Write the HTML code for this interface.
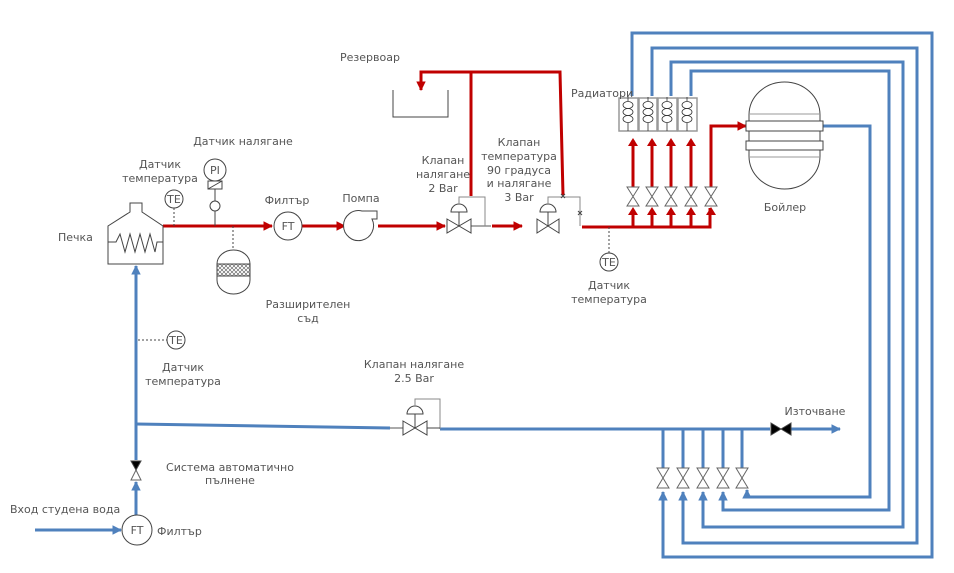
<!DOCTYPE html>
<html><head><meta charset="utf-8"><style>
html,body{margin:0;padding:0;background:#fff}
svg{display:block}
text{font-family:"DejaVu Sans","Liberation Sans",sans-serif;font-size:11px;fill:#555}
</style></head><body>
<svg width="954" height="573" viewBox="0 0 954 573" xmlns="http://www.w3.org/2000/svg">
<defs>
<marker id="ar" viewBox="0 0 10 10" refX="9" refY="5" markerWidth="3.2" markerHeight="3.2" orient="auto"><path d="M0,0L10,5L0,10z" fill="#c00000"/></marker>
<marker id="ab" viewBox="0 0 10 10" refX="9" refY="5" markerWidth="3.2" markerHeight="3.2" orient="auto"><path d="M0,0L10,5L0,10z" fill="#4f81bd"/></marker>
<pattern id="hat" width="4" height="4" patternUnits="userSpaceOnUse"><path d="M0,0L4,4M4,0L0,4" stroke="#555" stroke-width="0.6"/></pattern>
<g id="coil" fill="none" stroke="#333" stroke-width="0.8">
<path d="M0,0V4M0,30V34"/>
<ellipse cx="0" cy="8" rx="5" ry="3.5"/>
<ellipse cx="0" cy="15" rx="5" ry="3.5"/>
<ellipse cx="0" cy="22" rx="5" ry="3.5"/>
<path d="M0,26V30"/>
</g>
</defs>
<g fill="none" stroke-linejoin="miter">
<g stroke="#4f81bd" stroke-width="3">
<path d="M632,96V33H932V557H663V492" marker-end="url(#ab)"/>
<path d="M652,96V48H917V543H683V492" marker-end="url(#ab)"/>
<path d="M671,96V62H903V527H703V492" marker-end="url(#ab)"/>
<path d="M691,96V71H889V510H723V492" marker-end="url(#ab)"/>
<path d="M822,126H870V497H747V490" marker-end="url(#ab)"/>
<path d="M440,429H770"/>
<path d="M136,424L390,428"/>
<path d="M663,429V468M683,429V468M703,429V468M723,429V468M742,429V468"/>
<path d="M791,429H840" marker-end="url(#ab)"/>
<path d="M136,460V266" marker-end="url(#ab)"/>
<path d="M136,515V482" marker-end="url(#ab)"/>
<path d="M35,530H121" marker-end="url(#ab)"/>
</g>
<path d="M390,428H403" stroke="#aaa" stroke-width="2"/>
<g stroke="#c00000" stroke-width="3">
<path d="M163,226H272" marker-end="url(#ar)"/>
<path d="M302,226H345" marker-end="url(#ar)"/>
<path d="M378,226H445" marker-end="url(#ar)"/>
<path d="M492,226H522" marker-end="url(#ar)"/>
<path d="M582,227H710V208" />
<path d="M471,196V72H560L563,195"/>
<path d="M471,72H421V90" marker-end="url(#ar)"/>
<path d="M633,227V210M652,227V210M671,227V210M691,227V210" />
<path d="M633,187V140M652,187V140M671,187V140M691,187V140"/>
<path d="M711,187V126H746" marker-end="url(#ar)"/>
</g>
<g fill="#c00000" stroke="none">
<path d="M628,146L633,138L638,146zM647,146L652,138L657,146zM666,146L671,138L676,146zM686,146L691,138L696,146z"/>
<path d="M628,215L633,207L638,215zM647,215L652,207L657,215zM666,215L671,207L676,215zM686,215L691,207L696,215zM706,215L711,207L716,215z"/>
</g>
<path d="M471,226H491" stroke="#aaa" stroke-width="2"/>
<path d="M130,212V203H142V212L163,226V264H108V226L130,212Z" stroke="#444" stroke-width="1"/>
<path d="M108,242H116L120,234L125,252L130,234L135,252L140,234L145,252L150,234L155,252L157,242H163" stroke="#444" stroke-width="1"/>
<g stroke="#444" stroke-width="1">
<path d="M174,226V208M233,226V250M609,227V255M138,340H167M215,217V226" stroke-dasharray="2,2"/>
<circle cx="174" cy="199" r="9" fill="#fff"/>
<circle cx="176" cy="340" r="9" fill="#fff"/>
<circle cx="609" cy="262" r="9" fill="#fff"/>
<circle cx="215" cy="170" r="11" fill="#fff"/>
<rect x="208" y="181" width="14" height="8"/>
<path d="M208,189L222,181"/>
<path d="M215,189V201"/>
<circle cx="215" cy="206" r="5"/>
<path d="M215,211V226"/>
<path d="M217,264A16.5,14 0 0 1 250,264V280A16.5,14 0 0 1 217,280Z"/>
<rect x="217" y="264" width="33" height="12" fill="url(#hat)"/>
<circle cx="288" cy="226" r="14" fill="#fff"/>
<circle cx="137" cy="530" r="15" fill="#fff"/>
<path d="M362,211H377V219H372A15,15 0 1 1 362,211Z" fill="#fff"/>
<path d="M393,90V117H448V90"/>
<path d="M447,219L471,233V219L447,233Z" fill="#fff"/>
<path d="M459,226V212M451,212A8,8 0 0 1 467,212Z"/>
<path d="M459,204V197H485V226" stroke="#888"/>
<path d="M537,219L559,233V219L537,233Z" fill="#fff"/>
<path d="M548,226V212M540,212A8,8 0 0 1 556,212Z"/>
<path d="M548,204V197H580V226" stroke="#888"/>
<path d="M561,194L565,198M565,194L561,198M578,211L582,215M582,211L578,215"/>
<path d="M403,421L427,435V421L403,435Z" fill="#fff"/>
<path d="M415,428V414M407,414A8,8 0 0 1 423,414Z"/>
<path d="M415,406V399H440V429" stroke="#888"/>
<path d="M427,428H440"/>
<g fill="#fff" stroke="#666">
<path d="M627,187H639L627,206H639Z"/><path d="M646,187H658L646,206H658Z"/><path d="M665,187H677L665,206H677Z"/><path d="M685,187H697L685,206H697Z"/><path d="M705,187H717L705,206H717Z"/>
<path d="M657,468H669L657,488H669Z"/><path d="M677,468H689L677,488H689Z"/><path d="M697,468H709L697,488H709Z"/><path d="M717,468H729L717,488H729Z"/><path d="M736,468H748L736,488H748Z"/>
<path d="M136,470L141,480H131Z"/>
</g>
<path d="M131,461H141L136,470Z" fill="#000"/>
<path d="M771,423L791,435V423L771,435Z" fill="#000"/>
<g stroke="#999" stroke-width="1.5"><rect x="619" y="98" width="19" height="33"/><rect x="639" y="98" width="18" height="33"/><rect x="658" y="98" width="19" height="33"/><rect x="678" y="98" width="19" height="33"/></g>
<use href="#coil" x="628" y="97"/>
<use href="#coil" x="648" y="97"/>
<use href="#coil" x="667" y="97"/>
<use href="#coil" x="687" y="97"/>
<path d="M749,115A35.5,33 0 0 1 820,115V156A35.5,33 0 0 1 749,156Z"/>
<rect x="746" y="121" width="77" height="10" fill="#fff"/>
<rect x="746" y="141" width="77" height="9" fill="#fff"/>
<path d="M749,114H820M749,157H820" stroke="#999"/>
</g>
</g>
<text x="288" y="230" text-anchor="middle">FT</text>
<text x="137" y="534" text-anchor="middle">FT</text>
<text x="174" y="203" text-anchor="middle">TE</text>
<text x="176" y="344" text-anchor="middle">TE</text>
<text x="609" y="266" text-anchor="middle">TE</text>
<text x="215" y="174" text-anchor="middle">PI</text>
<text x="340" y="61">Резервоар</text>
<text x="571" y="97">Радиатори</text>
<text x="785" y="211" text-anchor="middle">Бойлер</text>
<text x="58" y="241">Печка</text>
<text x="243" y="145" text-anchor="middle">Датчик налягане</text>
<text x="160" y="168" text-anchor="middle">Датчик</text>
<text x="160" y="182" text-anchor="middle">температура</text>
<text x="287" y="204" text-anchor="middle">Филтър</text>
<text x="361" y="202" text-anchor="middle">Помпа</text>
<text x="443" y="164" text-anchor="middle">Клапан</text>
<text x="443" y="178" text-anchor="middle">налягане</text>
<text x="443" y="192" text-anchor="middle">2 Bar</text>
<text x="519" y="146" text-anchor="middle">Клапан</text>
<text x="519" y="160" text-anchor="middle">температура</text>
<text x="519" y="174" text-anchor="middle">90 градуса</text>
<text x="519" y="187" text-anchor="middle">и налягане</text>
<text x="519" y="201" text-anchor="middle">3 Bar</text>
<text x="308" y="308" text-anchor="middle">Разширителен</text>
<text x="308" y="322" text-anchor="middle">съд</text>
<text x="609" y="289" text-anchor="middle">Датчик</text>
<text x="609" y="303" text-anchor="middle">температура</text>
<text x="183" y="371" text-anchor="middle">Датчик</text>
<text x="183" y="385" text-anchor="middle">температура</text>
<text x="414" y="368" text-anchor="middle">Клапан налягане</text>
<text x="414" y="382" text-anchor="middle">2.5 Bar</text>
<text x="815" y="415" text-anchor="middle">Източване</text>
<text x="230" y="471" text-anchor="middle">Система автоматично</text>
<text x="230" y="484" text-anchor="middle">пълнене</text>
<text x="10" y="513">Вход студена вода</text>
<text x="157" y="535">Филтър</text>
</svg>
</body></html>
